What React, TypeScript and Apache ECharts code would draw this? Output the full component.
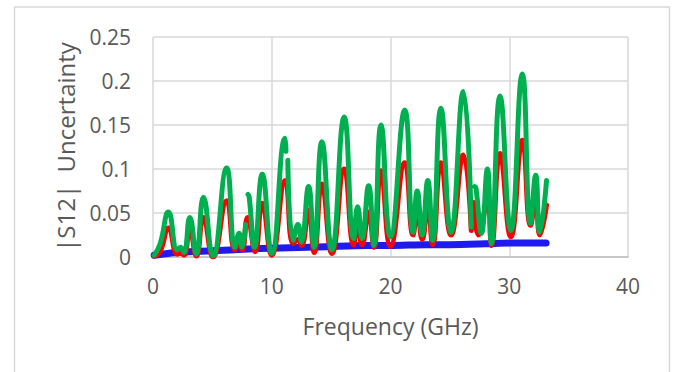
import React, { useEffect, useRef } from "react";
import * as echarts from "echarts";

const xTicks = [0, 10, 20, 30, 40];
const yTicks = [0, 0.05, 0.1, 0.15, 0.2, 0.25];

const blueFreq = [0.1, 2, 5, 8, 10, 13, 15, 18, 20, 23, 25, 28, 30, 33.1];
const blueVal = [0.002, 0.005, 0.007, 0.009, 0.010, 0.011, 0.012, 0.013, 0.013, 0.014, 0.014, 0.015, 0.016, 0.016];

const greenFreq = [0.1, 0.6, 1.3, 2.05, 2.3, 2.6, 3.1, 3.65, 4.25, 5.05, 6.2, 6.9, 7.25, 7.5, 7.8, 7.9, 8.0, 8.1, 8.55, 9.2, 10.0, 11.12, 11.2, 11.28, 11.35, 11.8, 12.2, 12.5, 13.1, 13.57, 14.22, 15.07, 16.1, 16.9, 17.23, 17.6, 18.16, 18.6, 19.2, 20.0, 21.2, 21.9, 22.25, 22.67, 23.14, 23.55, 24.24, 25.1, 26.13, 26.8, 26.95, 27.1, 27.2, 27.65, 28.16, 28.5, 29.22, 30.13, 31.1, 31.8, 32.23, 32.57, 33.14];
const greenVal = [0.002, 0.015, 0.051, 0.008, 0.011, 0.005, 0.045, 0.003, 0.068, 0.001, 0.101, 0.011, 0.027, 0.011, 0.037, null, 0.071, 0.068, 0.011, 0.094, 0.004, 0.135, 0.12, null, 0.11, 0.019, 0.037, 0.017, 0.080, 0.011, 0.131, 0.008, 0.159, 0.021, 0.057, 0.021, 0.081, 0.013, 0.150, 0.023, 0.167, 0.028, 0.075, 0.025, 0.087, 0.019, 0.169, 0.028, 0.188, 0.034, null, 0.080, 0.078, 0.027, 0.100, 0.015, 0.183, 0.030, 0.208, 0.038, 0.093, 0.028, 0.087];

const redFreq = [0.1, 0.6, 1.3, 2.05, 2.3, 2.6, 3.1, 3.65, 4.25, 5.05, 6.2, 6.9, 7.25, 7.5, 7.97, 8.6, 9.2, 10.0, 11.12, 11.8, 12.2, 12.5, 13.1, 13.57, 14.22, 15.07, 16.1, 16.9, 17.23, 17.6, 18.16, 18.6, 19.2, 20.0, 21.2, 21.9, 22.25, 22.67, 23.14, 23.55, 24.24, 25.1, 26.13, 26.8, 26.9, 27.0, 27.4, 28.16, 28.5, 29.22, 30.13, 31.1, 31.8, 32.23, 32.57, 33.14];
const redVal = [0.001, 0.006, 0.033, 0.003, 0.006, 0.002, 0.031, 0.001, 0.045, 0.0, 0.064, 0.008, 0.015, 0.008, 0.045, 0.006, 0.061, 0.002, 0.087, 0.015, 0.020, 0.013, 0.053, 0.005, 0.083, 0.004, 0.100, 0.014, 0.038, 0.014, 0.051, 0.011, 0.098, 0.012, 0.107, 0.025, 0.053, 0.020, 0.058, 0.014, 0.107, 0.025, 0.116, 0.030, null, 0.062, 0.025, 0.062, 0.013, 0.1175, 0.023, 0.1326, 0.036, 0.066, 0.025, 0.059];

const pairs = (xs: number[], ys: (number | null)[]) => xs.map((x, i) => [x, ys[i]]);

const FONT = "Open Sans";
const TEXT = "#595959";

export default function App() {
  const ref = useRef<HTMLDivElement>(null);
  useEffect(() => {
    if (!ref.current) return;
    const chart = echarts.init(ref.current, null, { renderer: "svg" });
    chart.setOption({
      animation: false,
      backgroundColor: "#ffffff",
      graphic: [
        {
          type: "rect",
          shape: { x: 14.5, y: 7, width: 655, height: 380 },
          style: { fill: "none", stroke: "#d9d9d9", lineWidth: 1.5 },
          silent: true,
        },
      ],
      grid: { left: 153, right: 46, top: 37, bottom: 115, containLabel: false },
      xAxis: {
        type: "value",
        min: xTicks[0],
        max: xTicks[xTicks.length - 1],
        interval: 10,
        name: "Frequency (GHz)",
        nameLocation: "middle",
        nameGap: 57,
        nameTextStyle: { fontFamily: FONT, fontSize: 23, color: TEXT },
        axisLine: { show: true, lineStyle: { color: "#bfbfbf", width: 1.5 } },
        axisTick: { show: false },
        axisLabel: { fontFamily: FONT, fontSize: 21, color: TEXT, margin: 18 },
        splitLine: { show: true, lineStyle: { color: "#d9d9d9", width: 1.5 } },
      },
      yAxis: {
        type: "value",
        min: yTicks[0],
        max: yTicks[yTicks.length - 1],
        interval: 0.05,
        name: "|S12|  Uncertainty",
        nameLocation: "middle",
        nameRotate: 90,
        nameGap: 76,
        nameTextStyle: { fontFamily: FONT, fontSize: 24, color: TEXT },
        axisLine: { show: false },
        axisTick: { show: false },
        axisLabel: {
          fontFamily: FONT,
          fontSize: 21,
          color: TEXT,
          margin: 22,
          formatter: (v: number) => String(parseFloat(v.toFixed(2))),
        },
        splitLine: { show: true, lineStyle: { color: "#d9d9d9", width: 1.5 } },
      },
      series: [
        {
          type: "line",
          data: pairs(blueFreq, blueVal),
          showSymbol: false,
          smooth: 0.3,
          lineStyle: { color: "#1f1aee", width: 7, cap: "round" },
          z: 2,
        },
        {
          type: "line",
          data: pairs(redFreq, redVal),
          showSymbol: false,
          connectNulls: false,
          smooth: 0.5,
          lineStyle: { color: "#ff0000", width: 5, cap: "round", join: "round" },
          z: 3,
        },
        {
          type: "line",
          data: pairs(greenFreq, greenVal),
          showSymbol: false,
          connectNulls: false,
          smooth: 0.5,
          lineStyle: { color: "#00b050", width: 5, cap: "round", join: "round" },
          z: 4,
        },
      ],
    });
    return () => chart.dispose();
  }, []);
  return (
    <div
      ref={ref}
      style={{ position: "fixed", left: 0, top: 0, width: 674, height: 372 }}
    />
  );
}
